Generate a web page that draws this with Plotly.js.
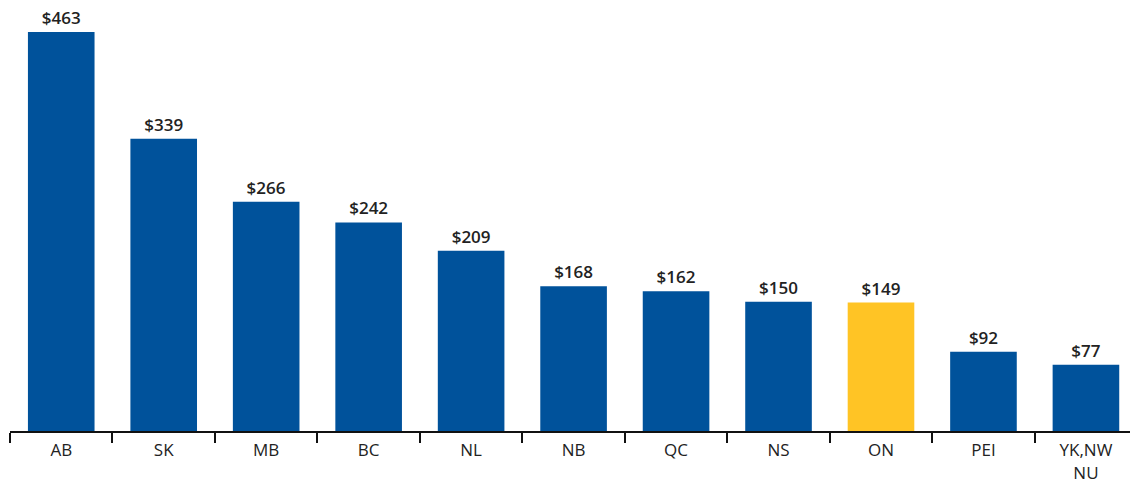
<!DOCTYPE html>
<html>
<head>
<meta charset="utf-8">
<script src="https://cdn.plot.ly/plotly-3.0.1.min.js"></script>
<style>html,body{margin:0;padding:0;background:#fff;}#chart{width:1130px;height:483px;}</style>
</head>
<body>
<div id="chart"></div>
<script>
const categories = ["AB", "SK", "MB", "BC", "NL", "NB", "QC", "NS", "ON", "PEI", "YK,NW<br>NU"];
const values = [463, 339, 266, 242, 209, 168, 162, 150, 149, 92, 77];
const highlight = "ON";
const blue = "#00529B";
const yellow = "#FFC425";
const colors = categories.map(c => c === highlight ? yellow : blue);

Plotly.newPlot("chart", [{
  type: "bar",
  x: categories,
  y: values,
  marker: {color: colors},
  text: values.map(v => "$" + v),
  textposition: "outside",
  cliponaxis: false,
  textfont: {family: "Open Sans, DejaVu Sans, sans-serif", size: 17, color: "#222", weight: 600},
  hoverinfo: "none"
}], {
  width: 1130, height: 483,
  margin: {l: 10, r: 0, t: 0, b: 52},
  paper_bgcolor: "#fff", plot_bgcolor: "#fff",
  showlegend: false,
  bargap: 0.35,
  xaxis: {
    type: "category",
    range: [-0.5, 10.43],
    showline: true, linecolor: "#111", linewidth: 2,
    ticks: "outside", tickson: "boundaries", ticklen: 10, tickwidth: 2, tickcolor: "#111",
    ticklabelstandoff: 3,
    tickfont: {family: "Open Sans, DejaVu Sans, sans-serif", size: 17, color: "#222"},
    showgrid: false, zeroline: false
  },
  yaxis: {
    range: [0, 500], visible: false, showgrid: false, zeroline: false
  }
}, {staticPlot: true});
</script>
</body>
</html>
